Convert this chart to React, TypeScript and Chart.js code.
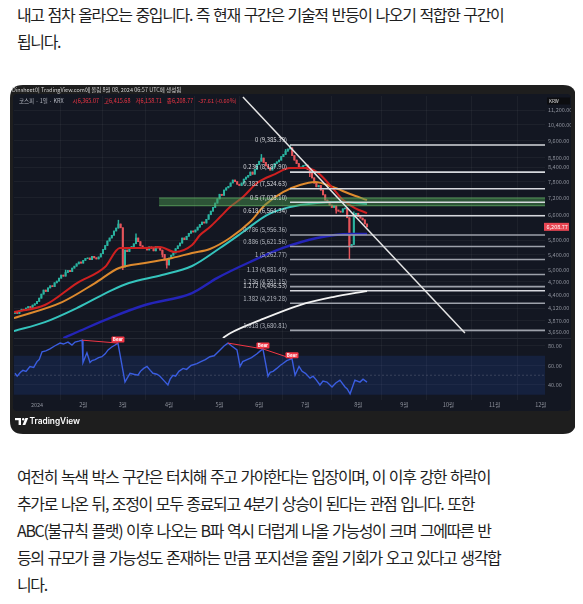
import React, { useEffect, useRef } from 'react';
import { Chart, registerables } from 'chart.js';

Chart.register(...registerables);

// ---------------- data ----------------
const monthTickIdx = [0, 21, 39, 60, 83, 101, 122, 146, 167, 187, 208, 229];
const monthTickLabels = ['2024', '2월', '3월', '4월', '5월', '6월', '7월', '8월', '9월', '10월', '11월', '12월'];
const priceTicks = [11200, 10400, 9600, 8800, 8400, 7800, 7200, 6600, 5800, 5400, 5000, 4700, 4400, 4120, 3870, 3650];
const rsiTicks = [80, 60, 40];

const firstBarIdx = -10;
const firstOpen = 4010;
const closes = [
  4036, 4010, 4060, 4095, 4070, 4120, 4150, 4130, 4182, 4210,
  4260, 4330, 4420, 4511, 4480, 4560, 4610, 4590, 4680, 4720,
  4790, 4865, 4840, 4930, 4980, 4950, 5040, 5090, 5150, 5198,
  5170, 5240, 5290, 5305, 5260, 5350, 5310, 5280, 5332, 5420,
  5540, 5650, 5780, 5868, 5950, 6080, 6170, 6298, 6180, 5068,
  5524, 5480, 5560, 5620, 5700, 5868, 5760, 5640, 5600, 5580,
  5524, 5610, 5570, 5500, 5620, 5580, 5520, 5400, 5250, 5120,
  5300, 5380, 5441, 5560, 5640, 5720, 5868, 5820, 5920, 6010,
  6080, 6050, 6110, 6200, 6280, 6360, 6330, 6450, 6600, 6720,
  6850, 7000, 7150, 7320, 7280, 7477, 7560, 7620, 7750, 7865,
  7800, 7700, 7650, 7746, 7900, 7980, 8050, 8188, 8100, 8300,
  8500, 8650, 8787, 8600, 8450, 8380, 8271, 8400, 8550, 8620,
  8699, 8850, 8950, 9100, 9200, 9250, 8900, 8699, 8550, 8355,
  8400, 8460, 8482, 8300, 8146, 7950, 7746, 7600, 7650, 7477,
  7300, 7108, 7050, 6931, 6850, 6900, 6758, 6720, 6690, 6800,
  6827, 6500, 5608, 5680, 6589, 6650, 6540, 6490, 6430, 6300, 6208.77,
];
const wickHighs: Record<number, number> = { 13: 4990, 37: 6420, 45: 5990, 102: 8950, 113: 9180, 115: 9385.39, 141: 6850, 144: 6700 };
const wickLows: Record<number, number> = { 39: 5000, 57: 5330, 59: 5040, 124: 8000, 136: 6650, 142: 5262.77 };

const fibRatios = ['0', '0.236', '0.382', '0.5', '0.618', '0.786', '0.886', '1', '1.13', '1.236', '1.272', '1.382', '1.618'];
const fibPrices = [9385.39, 8187.9, 7524.63, 7028.1, 6564.34, 5956.36, 5621.56, 5262.77, 4881.49, 4591.15, 4496.53, 4219.28, 3680.81];
const fibStartIdx = 115;

const greenBoxStartIdx = 55.5;
const greenBoxTop = 7184;
const greenBoxBottom = 6907;

const trendLine: [number, number][] = [[93.6, 11965], [194.5, 3632]];

const maRed: [number, number][] = [
  [-10.5, 4036], [3.6, 4183], [18.2, 4674], [30.9, 5069], [37.7, 5580], [49.1, 5580], [55.9, 5608],
  [62.7, 5468], [70.5, 5664], [74.1, 5957], [78.6, 6203], [83.2, 6523], [87.7, 6861], [93.6, 7217],
  [100, 7746], [108.2, 8106], [115, 8355], [121.8, 8355], [127.3, 8188], [133.2, 7668], [139.1, 7108],
  [144.5, 6827], [150, 6656],
];
const maOrange: [number, number][] = [
  [-10.5, 3915], [11.4, 4246], [26.4, 4674], [37.3, 5043], [49.1, 5173], [61.4, 5305], [70.5, 5441],
  [78.6, 5552], [87.7, 5868], [96.8, 6360], [103.6, 6931], [111.8, 7402], [119.5, 7668], [126.4, 7786],
  [134.5, 7591], [142.3, 7328], [150, 7108],
];
const maCyan: [number, number][] = [
  [-10.5, 3667], [3.6, 3837], [19.1, 4141], [34.1, 4511], [41.8, 4674], [56.8, 4866], [70.5, 5095],
  [83.2, 5580], [93.6, 6048], [104.5, 6589], [115, 6861], [127.3, 7001], [137.7, 7037], [150, 6966],
];
const maBlue: [number, number][] = [
  [12, 3541], [17.3, 3632], [34.1, 3935], [49.1, 4183], [70.5, 4444], [81.8, 4793], [96.8, 5199],
  [111.8, 5580], [127.3, 5868], [142.3, 5988], [150, 5988],
];
const maWhite: [number, number][] = [
  [84.5, 3541], [88, 3632], [101.4, 3876], [119.5, 4183], [134.5, 4355], [150, 4489],
];

const rsiValues: [number, number][] = [
  [-10, 52], [-9, 49], [-7.5, 53], [-6.4, 55], [-5, 54], [-3.2, 59], [-1.5, 58], [0, 64], [1, 66],
  [2.3, 74], [4, 75], [5.9, 77], [8, 80], [10.5, 83], [12, 82], [14.1, 84], [15.9, 81], [17.3, 84],
  [19, 85], [20.5, 86], [20.9, 63], [22.7, 73], [24.1, 63], [25, 65], [26.4, 66], [28, 68], [29.5, 69],
  [31, 72], [32.3, 76], [34, 79], [35.5, 81], [36.8, 83], [40, 43], [41, 47], [42.3, 52], [44, 51],
  [45.9, 50], [47, 54], [48.5, 57], [50, 59], [51.5, 55], [52.7, 52], [54.5, 51], [55.9, 49], [57.5, 45],
  [59.5, 40], [60.5, 46], [61.8, 50], [63, 49], [64.5, 54], [66.4, 57], [68, 56], [70, 60], [72.7, 62],
  [74.5, 64], [76.5, 66], [78.6, 69], [80.5, 70], [83.2, 76], [85, 80], [86.8, 83], [88.5, 80], [90.9, 76],
  [92.3, 59], [93.5, 64], [95.5, 66], [97.5, 68], [100, 72], [101.5, 75], [102.7, 77], [105, 49], [106, 53],
  [107.3, 54], [109, 57], [110.5, 60], [111.8, 62], [113.5, 65], [115.9, 67], [117.3, 50], [119.1, 59],
  [120.5, 54], [122, 52], [124.1, 47], [125.5, 49], [127, 45], [128.6, 40], [130, 44], [131.8, 43],
  [134.1, 38], [135.8, 42], [137.7, 45], [140, 38], [141, 36], [142.3, 31], [144.5, 45], [146.8, 43],
  [148.2, 46], [150, 43],
];
const bearDivergences: [number, number][][] = [
  [[20.5, 86], [36.8, 83]],
  [[86.8, 83], [102.7, 77]],
  [[102.7, 77], [115.9, 67]],
];
const rsiBandUpper = 70;
const rsiBandLower = 30;
const rsiMid = 50;

const headerText = 'Dinsheet이 TradingView.com에 올림 8월 08, 2024 06:57 UTC에 생성됨';
const legendSymbol = '코스피 · 1일 · KRX';
const legendValues = ['시6,365.07', '고6,415.68', '저6,158.71', '종6,208.77', '-37.61 (-0.60%)'];
const currencyText = 'KRW';

const topParagraph = ['내고 점차 올라오는 중입니다. 즉 현재 구간은 기술적 반등이 나오기 적합한 구간이', '됩니다.'];
const bottomParagraph = [
  '여전히 녹색 박스 구간은 터치해 주고 가야한다는 입장이며, 이 이후 강한 하락이',
  '추가로 나온 뒤, 조정이 모두 종료되고 4분기 상승이 된다는 관점 입니다. 또한',
  'ABC(불규칙 플랫) 이후 나오는 B파 역시 더럽게 나올 가능성이 크며 그에따른 반',
  '등의 규모가 클 가능성도 존재하는 만큼 포지션을 줄일 기회가 오고 있다고 생각합',
  '니다.',
];

// ---------------- view ranges ----------------
const X_MIN = -10.45;
const X_MAX = 230.9;
const PRICE_MIN = 3541;
const PRICE_MAX = 12025;
const RSI_MIN = 24.6;
const RSI_MAX = 88.2;

const UP = '#2ab3a0';
const DOWN = '#e5545a';
const GRID = 'rgba(255,255,255,0.045)';
const AXIS_TEXT = '#8e929c';
const CJK = '"Noto Sans CJK KR", "Noto Sans", sans-serif';

const W = 566;
const H = 349;

const pts = (arr: [number, number][]) => arr.map(([x, y]) => ({ x, y }));

function rr(ctx: CanvasRenderingContext2D, x: number, y: number, w: number, h: number, r: number) {
  ctx.beginPath();
  ctx.moveTo(x + r, y);
  ctx.lineTo(x + w - r, y);
  ctx.quadraticCurveTo(x + w, y, x + w, y + r);
  ctx.lineTo(x + w, y + h - r);
  ctx.quadraticCurveTo(x + w, y + h, x + w - r, y + h);
  ctx.lineTo(x + r, y + h);
  ctx.quadraticCurveTo(x, y + h, x, y + h - r);
  ctx.lineTo(x, y + r);
  ctx.quadraticCurveTo(x, y, x + r, y);
  ctx.closePath();
}

export default function App() {
  const ref = useRef<HTMLCanvasElement>(null);

  useEffect(() => {
    const canvas = ref.current;
    if (!canvas) return;

    const idxs = closes.map((_, i) => firstBarIdx + i);
    const opens = closes.map((c, i) => (i === 0 ? firstOpen : closes[i - 1]));
    const bodyData = closes.map((c, i) => ({ x: idxs[i], y: [opens[i], c] }));
    const candleColors = closes.map((c, i) => (c >= opens[i] ? UP : DOWN));
    const wickData = closes.map((c, i) => {
      const id = idxs[i];
      const hi = wickHighs[id] ?? Math.max(opens[i], c);
      const lo = wickLows[id] ?? Math.min(opens[i], c);
      return { x: id, y: [lo, hi] };
    });

    const lineBase = { type: 'line' as const, pointRadius: 0, fill: false, tension: 0 };

    const fibSets = fibPrices.map((p, k) => ({
      ...lineBase,
      label: 'fib' + fibRatios[k],
      data: [{ x: fibStartIdx, y: p }, { x: X_MAX, y: p }],
      borderColor: k <= 4 || k === 10 ? '#d6d8dd' : '#9da1aa',
      borderWidth: 1.6,
      yAxisID: 'y',
      order: 3,
    }));

    const datasets: any[] = [
      { ...lineBase, label: 'trend', data: pts(trendLine), borderColor: '#e6e6e6', borderWidth: 1.5, yAxisID: 'y', order: 1 },
      { ...lineBase, label: 'maWhite', data: pts(maWhite), borderColor: '#f2f2f2', borderWidth: 1.8, cubicInterpolationMode: 'monotone', yAxisID: 'y', order: 2 },
      ...fibSets,
      { ...lineBase, label: 'boxBottom', data: [{ x: greenBoxStartIdx, y: greenBoxBottom }, { x: X_MAX, y: greenBoxBottom }], borderColor: 'rgba(102,187,106,0.7)', borderWidth: 1, yAxisID: 'y', order: 4 },
      { ...lineBase, label: 'boxTop', data: [{ x: greenBoxStartIdx, y: greenBoxTop }, { x: X_MAX, y: greenBoxTop }], borderColor: 'rgba(102,187,106,0.7)', borderWidth: 1, fill: '-1', backgroundColor: 'rgba(76,150,80,0.48)', yAxisID: 'y', order: 4 },
      { ...lineBase, label: 'maRed', data: pts(maRed), borderColor: '#cf2020', borderWidth: 2, cubicInterpolationMode: 'monotone', yAxisID: 'y', order: 5 },
      { ...lineBase, label: 'maOrange', data: pts(maOrange), borderColor: '#de8a2e', borderWidth: 2, cubicInterpolationMode: 'monotone', yAxisID: 'y', order: 6 },
      { ...lineBase, label: 'maCyan', data: pts(maCyan), borderColor: '#35c4bd', borderWidth: 2, cubicInterpolationMode: 'monotone', yAxisID: 'y', order: 7 },
      { ...lineBase, label: 'maBlue', data: pts(maBlue), borderColor: '#2424b8', borderWidth: 2.4, cubicInterpolationMode: 'monotone', yAxisID: 'y', order: 8 },
      { type: 'bar', label: 'body', data: bodyData, backgroundColor: candleColors, borderWidth: 0, barThickness: 1.4, grouped: false, yAxisID: 'y', order: 10 },
      { type: 'bar', label: 'wick', data: wickData, backgroundColor: candleColors, borderWidth: 0, barThickness: 0.8, grouped: false, yAxisID: 'y', order: 11 },
      // RSI pane
      ...bearDivergences.map((seg, k) => ({ ...lineBase, label: 'bear' + k, data: pts(seg), borderColor: '#f23645', borderWidth: 1, yAxisID: 'rsi', order: 0 })),
      { ...lineBase, label: 'rsi', data: pts(rsiValues), borderColor: '#3a5de0', borderWidth: 1.4, yAxisID: 'rsi', order: 1 },
      { ...lineBase, label: 'mid', data: [{ x: X_MIN, y: rsiMid }, { x: X_MAX, y: rsiMid }], borderColor: 'rgba(140,145,160,0.3)', borderWidth: 1, borderDash: [2, 2], yAxisID: 'rsi', order: 19 },
      { ...lineBase, label: 'band30', data: [{ x: X_MIN, y: rsiBandLower }, { x: X_MAX, y: rsiBandLower }], borderColor: 'rgba(0,0,0,0)', borderWidth: 0, yAxisID: 'rsi', order: 20 },
      { ...lineBase, label: 'band70', data: [{ x: X_MIN, y: rsiBandUpper }, { x: X_MAX, y: rsiBandUpper }], borderColor: 'rgba(0,0,0,0)', borderWidth: 0, fill: '-1', backgroundColor: 'rgba(41,98,255,0.13)', yAxisID: 'rsi', order: 20 },
    ];

    const decor = {
      id: 'decor',
      beforeDraw(chart: any) {
        const ctx: CanvasRenderingContext2D = chart.ctx;
        ctx.save();
        rr(ctx, 0, 0, W, H, 13);
        ctx.fillStyle = '#1e1e1e';
        ctx.fill();
        rr(ctx, 3, 9, 558, 317, 4);
        ctx.fillStyle = '#131722';
        ctx.fill();
        ctx.font = `5.5px ${CJK}`;
        ctx.textBaseline = 'middle';
        ctx.fillStyle = '#cfcfcf';
        ctx.fillText(headerText, 2, 5);
        ctx.restore();
      },
      afterDraw(chart: any) {
        const ctx: CanvasRenderingContext2D = chart.ctx;
        const ys = chart.scales.y;
        const rs = chart.scales.rsi;
        const xs = chart.scales.x;
        const area = chart.chartArea;
        ctx.save();
        // pane separator
        ctx.strokeStyle = '#262a35';
        ctx.lineWidth = 1;
        ctx.beginPath();
        ctx.moveTo(area.left, Math.round(ys.bottom) + 0.5);
        ctx.lineTo(area.right + 26, Math.round(ys.bottom) + 0.5);
        ctx.stroke();

        // legend row
        ctx.font = `5.5px ${CJK}`;
        ctx.textBaseline = 'middle';
        let lx = 9;
        ctx.fillStyle = '#b2b5be';
        ctx.fillText(legendSymbol, lx, 15.7);
        lx += ctx.measureText(legendSymbol).width + 9;
        ctx.fillStyle = '#f23645';
        legendValues.forEach((t) => {
          ctx.fillText(t, lx, 15.7);
          lx += ctx.measureText(t).width + 5;
        });

        // currency box
        ctx.fillStyle = '#0c0d10';
        ctx.fillRect(537, 12.5, 23, 7);
        ctx.fillStyle = '#e0e0e0';
        ctx.font = `4.5px ${CJK}`;
        ctx.fillText(currencyText, 539, 16);

        // fib labels
        ctx.font = `6px ${CJK}`;
        ctx.textAlign = 'right';
        fibPrices.forEach((p, k) => {
          const px = xs.getPixelForValue(fibStartIdx);
          const py = ys.getPixelForValue(p);
          ctx.fillStyle = k <= 4 || k === 10 ? '#d6d8dd' : '#b4b8c0';
          const txt = `${fibRatios[k]} (${p.toLocaleString('en-US', { minimumFractionDigits: 2, maximumFractionDigits: 2 })})`;
          ctx.fillText(txt, px - 3, py - 5);
        });
        ctx.textAlign = 'left';

        // last price tag
        const last = closes[closes.length - 1];
        const ty = ys.getPixelForValue(last);
        ctx.fillStyle = '#e84552';
        ctx.fillRect(area.right - 1, ty - 4, 25, 8);
        ctx.fillStyle = '#ffffff';
        ctx.font = `5.5px ${CJK}`;
        ctx.fillText(last.toLocaleString('en-US', { minimumFractionDigits: 2 }), area.right + 1.5, ty + 0.3);

        // bear labels
        ctx.font = `bold 4.5px ${CJK}`;
        ctx.textAlign = 'center';
        bearDivergences.forEach((seg) => {
          const [ex, ev] = seg[1];
          const bx = xs.getPixelForValue(ex);
          const by = rs.getPixelForValue(ev);
          ctx.fillStyle = '#f23645';
          rr(ctx, bx - 6.5, by - 6.5, 13, 6, 1);
          ctx.fill();
          ctx.fillStyle = '#ffffff';
          ctx.fillText('Bear', bx, by - 3.4);
        });
        ctx.textAlign = 'left';

        // TradingView logo
        ctx.fillStyle = '#ffffff';
        ctx.fillRect(5, 333, 6, 2.2);
        ctx.fillRect(8.6, 333, 2.4, 7);
        ctx.beginPath();
        ctx.arc(13.2, 334.2, 1.2, 0, Math.PI * 2);
        ctx.fill();
        ctx.beginPath();
        ctx.moveTo(15.4, 333);
        ctx.lineTo(18.2, 333);
        ctx.lineTo(15.3, 340);
        ctx.lineTo(12.5, 340);
        ctx.closePath();
        ctx.fill();
        ctx.font = `600 8.3px Inter, "Noto Sans", sans-serif`;
        ctx.textBaseline = 'middle';
        ctx.fillText('TradingView', 19.5, 336.8);
        ctx.restore();
      },
    };

    const chart = new Chart(canvas, {
      type: 'line',
      data: { datasets },
      options: {
        animation: false,
        responsive: false,
        devicePixelRatio: 1,
        events: [],
        layout: { padding: { left: 4, top: 11, right: 5, bottom: 23 } },
        plugins: { legend: { display: false }, tooltip: { enabled: false } },
        scales: {
          x: {
            type: 'linear',
            min: X_MIN,
            max: X_MAX,
            position: 'bottom',
            offset: false,
            grid: { color: GRID, drawTicks: false },
            border: { display: false },
            ticks: {
              autoSkip: false,
              maxRotation: 0,
              padding: 2,
              color: AXIS_TEXT,
              font: { size: 5.5, family: CJK },
              callback: (v: any) => {
                const k = monthTickIdx.indexOf(Number(v));
                return k >= 0 ? monthTickLabels[k] : '';
              },
            },
            afterBuildTicks: (s: any) => {
              s.ticks = monthTickIdx.map((v) => ({ value: v }));
            },
            afterFit: (s: any) => {
              s.height = 11;
            },
          },
          y: {
            type: 'logarithmic',
            position: 'right',
            stack: 'panes',
            stackWeight: 242,
            min: PRICE_MIN,
            max: PRICE_MAX,
            grid: { color: GRID, drawTicks: false },
            border: { display: false },
            ticks: {
              autoSkip: false,
              crossAlign: 'near',
              padding: 3,
              color: AXIS_TEXT,
              font: { size: 5.5, family: CJK },
              callback: (v: any) => Number(v).toLocaleString('en-US', { minimumFractionDigits: 2, maximumFractionDigits: 2 }),
            },
            afterBuildTicks: (s: any) => {
              s.ticks = priceTicks.map((v) => ({ value: v }));
            },
            afterFit: (s: any) => {
              s.width = 26;
            },
          },
          rsi: {
            type: 'linear',
            position: 'right',
            stack: 'panes',
            stackWeight: 62,
            min: RSI_MIN,
            max: RSI_MAX,
            grid: { color: GRID, drawTicks: false },
            border: { display: false },
            ticks: {
              autoSkip: false,
              crossAlign: 'near',
              padding: 3,
              color: AXIS_TEXT,
              font: { size: 5.5, family: CJK },
              callback: (v: any) => Number(v).toFixed(2),
            },
            afterBuildTicks: (s: any) => {
              s.ticks = rsiTicks.map((v) => ({ value: v }));
            },
            afterFit: (s: any) => {
              s.width = 26;
            },
          },
        },
      } as any,
      plugins: [decor],
    });

    return () => chart.destroy();
  }, []);

  const textStyle: React.CSSProperties = {
    position: 'absolute',
    left: 9,
    whiteSpace: 'nowrap',
    fontFamily: CJK,
    fontSize: 16,
    letterSpacing: '-1.35px',
    wordSpacing: '1.6px',
    lineHeight: '27px',
    color: '#1e1e1e',
  };
  const topTops = [1, 28];
  const bottomTops = [463, 490, 517, 544, 571];

  return (
    <div style={{ position: 'relative', width: 583, height: 604 }}>
      {topParagraph.map((t, i) => (
        <div key={'t' + i} style={{ ...textStyle, top: topTops[i] - 8 }}>{t}</div>
      ))}
      <canvas
        ref={ref}
        width={W}
        height={H}
        style={{ position: 'absolute', left: 2, top: 77, width: W, height: H }}
      />
      {bottomParagraph.map((t, i) => (
        <div key={'b' + i} style={{ ...textStyle, top: bottomTops[i] - 8 }}>{t}</div>
      ))}
    </div>
  );
}
